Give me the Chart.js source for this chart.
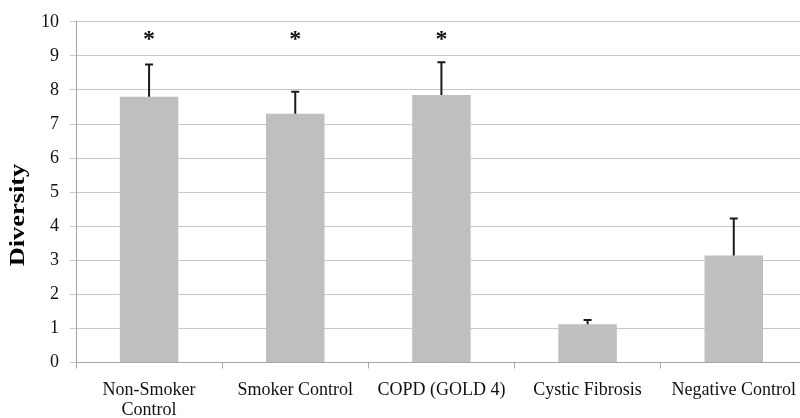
<!DOCTYPE html>
<html>
<head>
<meta charset="utf-8">
<script src="https://cdn.jsdelivr.net/npm/chart.js@4"></script>
<style>
  html, body { margin: 0; padding: 0; background: #fff; overflow: hidden; }
  #wrap { width: 808px; height: 418px; position: relative; }
</style>
</head>
<body>
<div id="wrap"><canvas id="c"></canvas></div>
<script>
const categories = [['Non-Smoker', 'Control'], 'Smoker Control', 'COPD (GOLD 4)', 'Cystic Fibrosis', 'Negative Control'];
const diversity = [7.8, 7.3, 7.85, 1.12, 3.14];
const errorUpper = [0.95, 0.65, 0.96, 0.13, 1.09];
const significance = ['*', '*', '*', '', ''];
const significanceLevel = 9.47;
const yTicks = [0, 1, 2, 3, 4, 5, 6, 7, 8, 9, 10];
const yTitle = 'Diversity';

const SERIF = '"Liberation Serif", "Times New Roman", serif';

const overlay = {
  id: 'overlay',
  afterDatasetsDraw(chart) {
    const ctx = chart.ctx;
    const xs = chart.scales.x, ys = chart.scales.y;
    ctx.save();
    // error bars
    ctx.strokeStyle = '#1a1a1a';
    ctx.lineWidth = 2;
    diversity.forEach((v, i) => {
      const x = xs.getPixelForValue(i);
      const y0 = ys.getPixelForValue(v);
      const y1 = ys.getPixelForValue(v + errorUpper[i]);
      ctx.beginPath();
      ctx.moveTo(x, y0);
      ctx.lineTo(x, y1);
      ctx.moveTo(x - 4, y1);
      ctx.lineTo(x + 4, y1);
      ctx.stroke();
    });
    // significance marks
    ctx.fillStyle = '#111';
    ctx.font = 'bold 24px ' + SERIF;
    ctx.textAlign = 'center';
    ctx.textBaseline = 'middle';
    significance.forEach((s, i) => {
      if (!s) return;
      ctx.fillText(s, xs.getPixelForValue(i), ys.getPixelForValue(significanceLevel));
    });
    // y axis title
    ctx.translate(18, 215);
    ctx.rotate(-Math.PI / 2);
    ctx.scale(1.2, 1);
    ctx.font = 'bold 22px ' + SERIF;
    ctx.fillStyle = '#000';
    ctx.fillText(yTitle, 0, 0);
    ctx.restore();
  }
};

new Chart(document.getElementById('c'), {
  type: 'bar',
  data: {
    labels: categories,
    datasets: [{
      data: diversity,
      backgroundColor: '#bfbfbf',
      borderWidth: 0,
      barPercentage: 0.4,
      categoryPercentage: 1.0
    }]
  },
  options: {
    responsive: true,
    maintainAspectRatio: false,
    devicePixelRatio: 1,
    animation: false,
    layout: { padding: { top: 17.5, left: 0, right: 0, bottom: 0 } },
    plugins: { legend: { display: false }, tooltip: { enabled: false } },
    scales: {
      x: {
        offset: true,
        grid: { display: true, offset: true, drawOnChartArea: false, drawTicks: true, tickLength: 6, color: '#a6a6a6' },
        border: { display: true, color: '#a6a6a6', width: 1 },
        ticks: { color: '#111', font: { family: SERIF, size: 18, lineHeight: 1.1 }, padding: 12, maxRotation: 0, autoSkip: false },
        afterFit(scale) { scale.height = 55.5; }
      },
      y: {
        min: 0,
        max: 10,
        afterBuildTicks(scale) { scale.ticks = yTicks.map(v => ({ value: v })); },
        grid: { color: '#c8c8c8', lineWidth: 1, drawTicks: true, tickLength: 6 },
        border: { display: true, color: '#a6a6a6', width: 1 },
        ticks: { color: '#111', font: { family: SERIF, size: 18 }, padding: 11 },
        afterFit(scale) { scale.width = 76; }
      }
    }
  },
  plugins: [overlay]
});
</script>
</body>
</html>
